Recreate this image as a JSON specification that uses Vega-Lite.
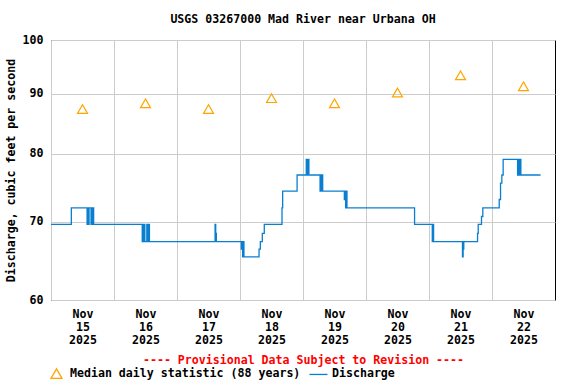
{
  "$schema": "https://vega.github.io/schema/vega-lite/v6.json",
  "width": 504,
  "height": 260,
  "autosize": {"type": "none"},
  "padding": {"left": 51, "top": 40, "right": 21, "bottom": 84},
  "background": "white",
  "title": {
    "text": "USGS 03267000 Mad River near Urbana OH",
    "font": "DejaVu Sans Mono",
    "fontWeight": "bold",
    "fontSize": 11.6,
    "color": "black",
    "anchor": "middle",
    "offset": 8
  },
  "config": {
    "view": {"stroke": "black", "strokeWidth": 1},
    "font": "DejaVu Sans Mono"
  },
  "datasets": {
    "discharge": [
      {"time": "2025-11-15T00:00:00Z", "cfs": 69.6, "series": "Discharge"},
      {"time": "2025-11-15T07:45:00Z", "cfs": 71.9, "series": "Discharge"},
      {"time": "2025-11-15T13:45:00Z", "cfs": 69.6, "series": "Discharge"},
      {"time": "2025-11-15T14:00:00Z", "cfs": 71.9, "series": "Discharge"},
      {"time": "2025-11-15T14:15:00Z", "cfs": 69.6, "series": "Discharge"},
      {"time": "2025-11-15T14:30:00Z", "cfs": 71.9, "series": "Discharge"},
      {"time": "2025-11-15T15:15:00Z", "cfs": 69.6, "series": "Discharge"},
      {"time": "2025-11-15T15:30:00Z", "cfs": 71.9, "series": "Discharge"},
      {"time": "2025-11-15T15:45:00Z", "cfs": 69.6, "series": "Discharge"},
      {"time": "2025-11-15T16:00:00Z", "cfs": 71.9, "series": "Discharge"},
      {"time": "2025-11-15T16:15:00Z", "cfs": 69.6, "series": "Discharge"},
      {"time": "2025-11-16T10:45:00Z", "cfs": 67.3, "series": "Discharge"},
      {"time": "2025-11-16T11:00:00Z", "cfs": 69.6, "series": "Discharge"},
      {"time": "2025-11-16T11:15:00Z", "cfs": 67.3, "series": "Discharge"},
      {"time": "2025-11-16T11:30:00Z", "cfs": 69.6, "series": "Discharge"},
      {"time": "2025-11-16T11:45:00Z", "cfs": 67.3, "series": "Discharge"},
      {"time": "2025-11-16T12:30:00Z", "cfs": 69.6, "series": "Discharge"},
      {"time": "2025-11-16T12:45:00Z", "cfs": 67.3, "series": "Discharge"},
      {"time": "2025-11-16T13:15:00Z", "cfs": 69.6, "series": "Discharge"},
      {"time": "2025-11-16T13:30:00Z", "cfs": 67.3, "series": "Discharge"},
      {"time": "2025-11-17T14:30:00Z", "cfs": 69.6, "series": "Discharge"},
      {"time": "2025-11-17T14:45:00Z", "cfs": 68.4, "series": "Discharge"},
      {"time": "2025-11-17T15:00:00Z", "cfs": 67.3, "series": "Discharge"},
      {"time": "2025-11-18T00:30:00Z", "cfs": 66.3, "series": "Discharge"},
      {"time": "2025-11-18T00:45:00Z", "cfs": 67.3, "series": "Discharge"},
      {"time": "2025-11-18T01:00:00Z", "cfs": 65.3, "series": "Discharge"},
      {"time": "2025-11-18T01:15:00Z", "cfs": 67.3, "series": "Discharge"},
      {"time": "2025-11-18T01:30:00Z", "cfs": 65.3, "series": "Discharge"},
      {"time": "2025-11-18T07:15:00Z", "cfs": 66.3, "series": "Discharge"},
      {"time": "2025-11-18T07:45:00Z", "cfs": 67.3, "series": "Discharge"},
      {"time": "2025-11-18T08:30:00Z", "cfs": 68.4, "series": "Discharge"},
      {"time": "2025-11-18T09:15:00Z", "cfs": 69.6, "series": "Discharge"},
      {"time": "2025-11-18T16:00:00Z", "cfs": 71.9, "series": "Discharge"},
      {"time": "2025-11-18T16:15:00Z", "cfs": 74.3, "series": "Discharge"},
      {"time": "2025-11-18T21:45:00Z", "cfs": 76.7, "series": "Discharge"},
      {"time": "2025-11-19T01:15:00Z", "cfs": 79.1, "series": "Discharge"},
      {"time": "2025-11-19T01:30:00Z", "cfs": 76.7, "series": "Discharge"},
      {"time": "2025-11-19T01:45:00Z", "cfs": 79.1, "series": "Discharge"},
      {"time": "2025-11-19T02:15:00Z", "cfs": 76.7, "series": "Discharge"},
      {"time": "2025-11-19T06:30:00Z", "cfs": 74.3, "series": "Discharge"},
      {"time": "2025-11-19T06:45:00Z", "cfs": 76.7, "series": "Discharge"},
      {"time": "2025-11-19T07:00:00Z", "cfs": 74.3, "series": "Discharge"},
      {"time": "2025-11-19T07:15:00Z", "cfs": 76.7, "series": "Discharge"},
      {"time": "2025-11-19T07:30:00Z", "cfs": 74.3, "series": "Discharge"},
      {"time": "2025-11-19T15:45:00Z", "cfs": 73.1, "series": "Discharge"},
      {"time": "2025-11-19T16:00:00Z", "cfs": 74.3, "series": "Discharge"},
      {"time": "2025-11-19T16:15:00Z", "cfs": 71.9, "series": "Discharge"},
      {"time": "2025-11-19T16:30:00Z", "cfs": 74.3, "series": "Discharge"},
      {"time": "2025-11-19T16:45:00Z", "cfs": 71.9, "series": "Discharge"},
      {"time": "2025-11-20T18:30:00Z", "cfs": 69.6, "series": "Discharge"},
      {"time": "2025-11-21T01:15:00Z", "cfs": 67.3, "series": "Discharge"},
      {"time": "2025-11-21T01:30:00Z", "cfs": 69.6, "series": "Discharge"},
      {"time": "2025-11-21T01:45:00Z", "cfs": 67.3, "series": "Discharge"},
      {"time": "2025-11-21T12:45:00Z", "cfs": 65.3, "series": "Discharge"},
      {"time": "2025-11-21T13:00:00Z", "cfs": 66.3, "series": "Discharge"},
      {"time": "2025-11-21T13:15:00Z", "cfs": 67.3, "series": "Discharge"},
      {"time": "2025-11-21T18:30:00Z", "cfs": 68.4, "series": "Discharge"},
      {"time": "2025-11-21T18:45:00Z", "cfs": 69.6, "series": "Discharge"},
      {"time": "2025-11-21T20:00:00Z", "cfs": 70.7, "series": "Discharge"},
      {"time": "2025-11-21T20:30:00Z", "cfs": 71.9, "series": "Discharge"},
      {"time": "2025-11-22T02:45:00Z", "cfs": 73.1, "series": "Discharge"},
      {"time": "2025-11-22T03:15:00Z", "cfs": 75.5, "series": "Discharge"},
      {"time": "2025-11-22T03:45:00Z", "cfs": 76.7, "series": "Discharge"},
      {"time": "2025-11-22T04:15:00Z", "cfs": 79.1, "series": "Discharge"},
      {"time": "2025-11-22T09:45:00Z", "cfs": 76.7, "series": "Discharge"},
      {"time": "2025-11-22T10:00:00Z", "cfs": 79.1, "series": "Discharge"},
      {"time": "2025-11-22T10:15:00Z", "cfs": 76.7, "series": "Discharge"},
      {"time": "2025-11-22T10:45:00Z", "cfs": 79.1, "series": "Discharge"},
      {"time": "2025-11-22T11:00:00Z", "cfs": 76.7, "series": "Discharge"},
      {"time": "2025-11-22T18:30:00Z", "cfs": 76.7, "series": "Discharge"}
    ],
    "median": [
      {"time": "2025-11-15T12:00:00Z", "cfs": 87.3, "series": "Median daily statistic (88 years)"},
      {"time": "2025-11-16T12:00:00Z", "cfs": 88.3, "series": "Median daily statistic (88 years)"},
      {"time": "2025-11-17T12:00:00Z", "cfs": 87.3, "series": "Median daily statistic (88 years)"},
      {"time": "2025-11-18T12:00:00Z", "cfs": 89.2, "series": "Median daily statistic (88 years)"},
      {"time": "2025-11-19T12:00:00Z", "cfs": 88.3, "series": "Median daily statistic (88 years)"},
      {"time": "2025-11-20T12:00:00Z", "cfs": 90.2, "series": "Median daily statistic (88 years)"},
      {"time": "2025-11-21T12:00:00Z", "cfs": 93.3, "series": "Median daily statistic (88 years)"},
      {"time": "2025-11-22T12:00:00Z", "cfs": 91.3, "series": "Median daily statistic (88 years)"}
    ]
  },
  "layer": [
    {
      "data": {"name": "discharge"},
      "mark": {"type": "line", "interpolate": "step-after", "strokeWidth": 1.3},
      "encoding": {
        "x": {
          "field": "time",
          "type": "temporal",
          "scale": {
            "type": "utc",
            "domain": [
              {"year": 2025, "month": 11, "date": 15, "utc": true},
              {"year": 2025, "month": 11, "date": 23, "utc": true}
            ]
          },
          "axis": {
            "values": [
              {"year": 2025, "month": 11, "date": 15, "utc": true},
              {"year": 2025, "month": 11, "date": 16, "utc": true},
              {"year": 2025, "month": 11, "date": 17, "utc": true},
              {"year": 2025, "month": 11, "date": 18, "utc": true},
              {"year": 2025, "month": 11, "date": 19, "utc": true},
              {"year": 2025, "month": 11, "date": 20, "utc": true},
              {"year": 2025, "month": 11, "date": 21, "utc": true},
              {"year": 2025, "month": 11, "date": 22, "utc": true}
            ],
            "labelExpr": "[utcFormat(datum.value, '%b'), utcFormat(datum.value, '%d'), utcFormat(datum.value, '%Y')]",
            "labelOffset": 31.5,
            "labelAlign": "center",
            "labelBaseline": "top",
            "labelFlush": false,
            "labelOverlap": false,
            "labelFont": "DejaVu Sans Mono",
            "labelFontWeight": "bold",
            "labelFontSize": 11.6,
            "labelColor": "black",
            "labelLineHeight": 13,
            "labelPadding": 8,
            "ticks": false,
            "domain": false,
            "grid": true,
            "gridColor": "#cccccc",
            "gridWidth": 1,
            "title": "---- Provisional Data Subject to Revision ----",
            "titleColor": "#ff0000",
            "titleFont": "DejaVu Sans Mono",
            "titleFontWeight": "bold",
            "titleFontSize": 11.6,
            "titlePadding": 9
          }
        },
        "y": {
          "field": "cfs",
          "type": "quantitative",
          "scale": {"type": "log", "domain": [60, 100], "nice": false},
          "axis": {
            "values": [60, 70, 80, 90, 100],
            "ticks": false,
            "domain": false,
            "grid": true,
            "gridColor": "#cccccc",
            "gridWidth": 1,
            "labelFont": "DejaVu Sans Mono",
            "labelFontWeight": "bold",
            "labelFontSize": 11.6,
            "labelColor": "black",
            "labelPadding": 8,
            "labelFlush": false,
            "title": "Discharge, cubic feet per second",
            "titleFont": "DejaVu Sans Mono",
            "titleFontWeight": "bold",
            "titleFontSize": 11.6,
            "titleColor": "black",
            "titlePadding": 6
          }
        },
        "color": {
          "field": "series",
          "type": "nominal",
          "scale": {
            "domain": ["Median daily statistic (88 years)", "Discharge"],
            "range": ["#ffa500", "#0a7fd0"]
          },
          "legend": {
            "title": null,
            "orient": "none",
            "legendX": -1,
            "legendY": 327,
            "direction": "horizontal",
            "padding": 0,
            "symbolSize": 324,
            "symbolStrokeWidth": 1.3,
            "labelFont": "DejaVu Sans Mono",
            "labelFontWeight": "bold",
            "labelFontSize": 11.6,
            "labelColor": "black",
            "labelOffset": 7,
            "labelLimit": 0,
            "columnPadding": 5,
            "encode": {
              "symbols": {
                "update": {
                  "shape": {"signal": "datum.value === 'Discharge' ? 'stroke' : 'triangle-up'"},
                  "size": {"signal": "datum.value === 'Discharge' ? 324 : 121"},
                  "fill": {"value": "transparent"},
                  "stroke": {"signal": "scale('color', datum.value)"},
                  "strokeWidth": {"value": 1.3}
                }
              }
            }
          }
        }
      }
    },
    {
      "data": {"name": "median"},
      "mark": {"type": "point", "shape": "triangle-up", "filled": false, "size": 100, "strokeWidth": 1.2, "opacity": 1},
      "encoding": {
        "x": {"field": "time", "type": "temporal"},
        "y": {"field": "cfs", "type": "quantitative"},
        "color": {"field": "series", "type": "nominal"}
      }
    }
  ]
}
